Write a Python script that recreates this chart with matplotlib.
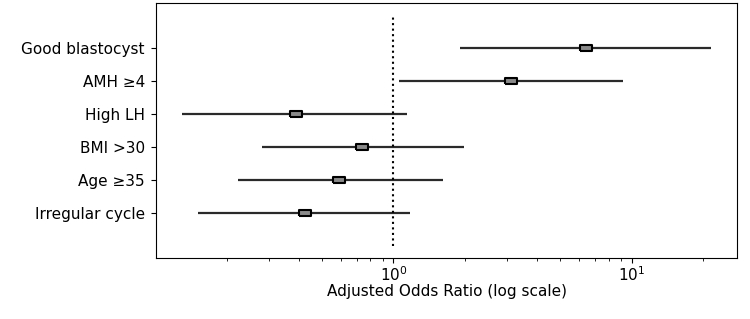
import matplotlib
matplotlib.use("Agg")
import matplotlib.pyplot as plt
import numpy as np

# data, bottom to top
labels = ["Irregular cycle", "Age \u226535", "BMI >30", "High LH", "AMH \u22654", "Good blastocyst"]
odds = [0.427, 0.593, 0.738, 0.388, 3.12, 6.41]
ci_low = [0.151, 0.222, 0.281, 0.130, 1.05, 1.91]
ci_high = [1.175, 1.62, 1.97, 1.14, 9.23, 21.5]

plt.rcParams['font.family'] = ['DejaVu Sans']
plt.rcParams['font.size'] = 11

fig = plt.figure(figsize=(7.5, 3.19), dpi=100)
ax = fig.add_axes([0.208, 0.191, 0.775, 0.799])

y = np.arange(len(labels))
odds = np.array(odds)
err = [odds - np.array(ci_low), np.array(ci_high) - odds]

# wide box marker, like the stretched original
box = [(-1.6, -1), (1.6, -1), (1.6, 1), (-1.6, 1), (-1.6, -1)]
ax.errorbar(odds, y, xerr=err, fmt='none', ecolor='#2a2a2a', elinewidth=1.6, capsize=0)
ax.plot(odds, y, linestyle='none', marker=box, markersize=8,
        markerfacecolor='#8a8a8a', markeredgecolor='black', markeredgewidth=1.5)

ax.vlines(1, -1, len(labels), colors='black', linestyles=':', linewidth=1.5)

ax.set_xscale('log')
ax.set_yticks(y)
ax.set_yticklabels(labels)
ax.tick_params(axis='x', which='major', pad=1.5)
ax.tick_params(axis='y', pad=4.5)
ax.set_xlabel('Adjusted Odds Ratio (log scale)', labelpad=0)

fig.savefig('out.png', dpi=100)
